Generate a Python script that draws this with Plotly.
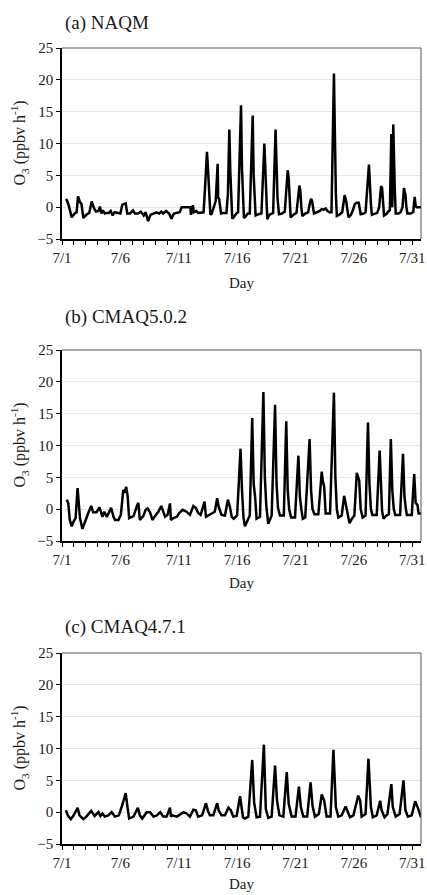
import plotly.graph_objects as go
from plotly.subplots import make_subplots

panel_titles = ["(a) NAQM", "(b) CMAQ5.0.2", "(c) CMAQ4.7.1"]
tick_hours = [0, 120, 240, 360, 480, 600, 720]
tick_labels = ["7/1", "7/6", "7/11", "7/16", "7/21", "7/26", "7/31"]
y_ticks = [-5, 0, 5, 10, 15, 20, 25]
x_title = "Day"
y_title = "O<sub>3</sub> (ppbv h<sup>-1</sup>)"

# hours since 7/1 00:00
hours_a = [8, 10, 14, 20, 26, 30, 33, 37, 40, 44, 50, 56, 61, 66, 70, 75, 78, 81, 84, 88,
           92, 96, 100, 104, 108, 114, 120, 124, 127, 131, 134, 140, 146, 150, 156, 162, 168,
           172, 177, 182, 188, 194, 200, 204, 208, 214, 220, 225, 230, 236, 242, 246, 264,
           265, 269, 271, 276, 280, 286, 291,
           294, 298, 300, 301, 303, 305, 308, 312, 316, 320, 321, 323, 325, 327, 333, 338,
           341, 344, 346, 348, 350, 354, 358, 362, 368, 370, 372, 374, 378, 382, 386, 392,
           394, 396, 398, 404, 410, 416, 418, 420, 422, 426, 430, 434, 439, 441, 443, 446,
           452, 458, 464, 466, 468, 470, 476, 482, 488, 490, 492, 494, 500, 506, 510, 512,
           514, 516, 518, 524, 530, 534, 538, 542, 546, 550, 554, 559, 561, 563, 565, 570,
           576, 581, 584, 586, 589, 594, 598, 602, 606, 610, 612, 614, 620, 624, 631, 633,
           635, 637, 644, 648, 652, 656, 658, 660, 662, 668, 670, 674, 677, 679, 681, 684,
           686, 692, 696, 700, 703, 705, 706, 708, 710, 716, 722, 725, 727, 729, 738]
o3_a = [1.3, 1.1, 0.2, -1.6, -1.0, -0.8, 1.7, 0.8, 0.5, -1.7, -1.2, -0.9, 0.9, -0.2, -0.7,
        -0.6, 0.1, -1.0, -0.5, -1.0, -0.9, -0.9, -0.6, -1.3, -0.8, -0.9, -1.0, 0.4, 0.5, 0.6,
        -1.0, -1.0, -0.5, -1.0, -1.0, -0.7, -1.3, -0.8, -2.2, -1.2, -1.0, -0.8, -1.0, -0.7,
        -1.0, -0.6, -1.0, -1.8, -1.0, -0.9, -0.8, 0.0, 0.0,
        -1.2, 0.3, -0.8, -0.6, -0.9, -0.8, -0.8,
        3.0, 8.7, 6.2, 5.0, 1.0, -1.2, -1.0, 0.0, 1.0, 6.8, 1.5, 1.3, 0.3, -1.0, -0.9, -0.9,
        2.0, 12.2, 5.5, 1.0, -1.8, -1.5, -1.0, -0.8, 16.0, 6.0, 3.0, -1.7, -1.4, -1.0, -1.0, 14.4,
        5.0, 2.5, -1.3, -1.1, -1.0, 10.0, 5.0, 2.0, -1.9, -1.2, -1.0, -0.9, 12.2, 5.0, 1.5, -1.1,
        -1.0, -0.7, 5.8, 4.5, 1.0, -1.6, -1.2, -0.9, 3.4, 2.5, 0.0, -1.4, -1.0, -0.8, 0.8, 1.3,
        1.0, 0.0, -1.0, -0.8, -0.6, -0.3, -0.4, -0.2, -0.6, -0.8, -0.8, 21.0, 8.0, 2.0, -1.4, -1.2,
        -0.8, 1.9, 1.0, 0.0, -1.6, -1.2, -0.5, 0.5, 0.7, 0.7, 0.0, -1.1, -1.0, -0.8, 6.7, 3.0,
        0.5, -1.2, -1.0, -0.9, 0.0, 3.3, 3.0, 1.0, -1.3, -1.0, -0.7, -0.5, 11.5, 0.0, 13.0, 3.0,
        -1.0, -1.0, -0.8, 0.0, 3.0, 2.2, 2.0, 0.0, -1.0, -1.0, -0.8, 1.6, 0.2, 0.0, 0.0]

hours_b = [10, 13, 16, 20, 24, 28, 32, 34, 37, 42, 47, 54, 60, 64, 71, 77, 80, 83, 87, 92,
           96, 101, 106, 109, 116, 121, 126, 129, 132, 135, 138, 147, 154, 157, 160, 167, 172,
           176, 181, 186, 191, 198, 204, 208, 212, 217, 222, 224, 229, 236, 241, 248, 256, 263,
           270, 275, 280, 285, 293, 296, 302, 308, 314, 319, 322, 328, 335, 341, 345, 349, 353,
           360, 367, 370, 373, 376, 383, 386, 391, 394, 397, 400, 407, 414, 417, 420, 424, 431,
           438, 441, 444, 448, 456, 461, 464, 467, 471, 479, 486, 489, 492, 495, 500, 509, 512,
           515, 519, 527, 534, 536, 539, 542, 551, 559, 562, 565, 568, 575, 580, 584, 591, 596,
           601, 606, 609, 611, 614, 618, 624, 629, 632, 635, 638, 647, 653, 656, 658, 661, 667,
           672, 676, 679, 682, 685, 695, 701, 704, 707, 709, 719, 724, 727, 729, 731, 733, 738]
o3_b = [1.5, 0.9, -1.7, -2.7, -1.9, -1.4, 3.3, 1.5, -1.4, -3.1, -1.9, -0.6, 0.5, -0.5, -0.5,
        0.3, -0.4, -1.2, -0.4, -1.2, -0.6, 0.2, -1.2, -1.7, -1.7, -0.9, 3.0, 2.8, 3.5, 2.0, -1.4,
        -1.1, 0.5, 1.0, -1.7, -1.1, -0.1, 0.1, -0.5, -1.7, -1.1, -0.4, 0.5, -0.4, -1.2, -0.9,
        0.9, -1.7, -1.4, -1.2, -0.6, -0.1, -0.4, -0.9, 0.5, 0.2, -0.6, -0.9, 1.2, -1.2, -0.9,
        -0.6, -0.4, 1.7, 0.4, -0.9, -1.0, 1.5, 0.4, -1.2, -1.5, -1.0, 9.5, 3.0, -1.3, -2.7, -1.3,
        -1.0, 14.3, 4.0, 1.9, -1.5, -1.2, 18.4, 5.0, 0.5, -2.3, -1.0, 16.4, 4.0, 0.2, -1.0, -1.0,
        13.8, 3.0, 0.0, -1.3, -1.3, 8.4, 2.0, 0.0, -1.5, -1.3, 11.0, 3.0, 0.0, -0.8, -0.8, 5.9,
        4.5, 3.5, -0.7, -0.7, 18.3, 5.0, 0.0, -1.3, -1.0, 2.1, 0.5, -2.2, -1.5, -1.0, 5.7, 4.8,
        4.5, 0.0, -1.3, -1.0, 13.6, 4.0, 0.0, -0.9, -0.9, 9.2, 2.0, -0.3, -1.5, -1.0, -0.8, 11.0,
        3.0, 0.0, -0.9, -0.9, 8.7, 2.0, 0.0, -0.9, -0.9, 5.5, 1.0, 0.8, 0.6, -0.7, -0.7]

hours_c = [8, 12, 18, 24, 32, 36, 44, 50, 60, 67, 75, 79, 83, 88, 95, 102, 109, 117, 125, 131,
           135, 138, 147, 156, 160, 165, 174, 181, 188, 195, 202, 208, 215, 222, 224, 227, 236,
           243, 250, 256, 263, 270, 275, 280, 288, 296, 300, 304, 311, 319, 322, 328, 335, 342,
           347, 352, 359, 366, 369, 372, 376, 383, 391, 395, 400, 407, 415, 419, 424, 431, 438,
           442, 447, 455, 462, 466, 472, 480, 487, 491, 496, 504, 511, 515, 520, 528, 534, 539,
           544, 552, 558, 563, 568, 575, 583, 588, 592, 599, 609, 613, 616, 624, 630, 635, 639,
           647, 654, 657, 663, 669, 677, 680, 686, 694, 702, 706, 711, 719, 726, 731, 738]
o3_c = [0.3, -0.5, -1.1, -0.5, 0.7, -0.5, -1.1, -0.7, 0.2, -0.6, 0.0, -0.6, -0.2, -0.7, -0.5,
        0.0, -0.7, -0.5, 1.4, 3.0, 0.6, -1.0, -0.7, 0.7, -0.5, -1.0, 0.0, 0.0, -0.7, -0.5, 0.0,
        -0.7, -0.7, 0.7, -0.7, -0.5, -0.7, -0.4, 0.0, -0.2, -0.7, 0.4, 0.3, -0.7, -0.5, 1.4,
        0.2, -0.5, -0.5, 1.4, 0.3, -0.5, -0.5, 0.7, 0.3, -0.7, -0.6, 2.5, 0.5, -0.8, -1.0, -0.7,
        8.2, 1.5, -0.8, -0.7, 10.6, 0.5, -0.9, -0.7, 7.3, 1.8, -0.5, -0.7, 6.3, 1.3, -0.7, -0.7,
        4.0, 0.8, -0.7, -0.7, 4.7, 1.0, -0.7, -0.3, 2.8, 1.8, -0.7, -0.7, 9.8, 0.8, -0.7, -0.5,
        0.9, 0.0, -0.8, -0.5, 2.6, 1.8, -0.7, -0.3, 8.4, 0.8, -0.8, -0.5, 1.8, 0.3, -0.8, -0.3,
        4.4, 0.8, -0.7, -0.3, 5.0, 0.3, -0.7, -0.5, 1.7, 0.8, -0.8]

series = [(hours_a, o3_a), (hours_b, o3_b), (hours_c, o3_c)]

W, H = 427, 895
FONT = "Liberation Serif"
TXT = "#1a1a1a"
plot_px = [(48, 239), (350, 541), (653, 844)]   # top, bottom of each plot area
title_px = [23, 317, 627]
day_px = [283, 583, 884]
x_dom = [62 / W, 421 / W]

fig = make_subplots(rows=3, cols=1)
annotations = []
shapes = []
for i, (hrs, vals) in enumerate(series):
    r = i + 1
    fig.add_trace(go.Scatter(x=hrs, y=vals, mode="lines",
                             line=dict(color="black", width=2.5), showlegend=False),
                  row=r, col=1)
    top, bot = plot_px[i]
    xa = "xaxis" if r == 1 else f"xaxis{r}"
    ya = "yaxis" if r == 1 else f"yaxis{r}"
    fig.layout[xa].update(
        domain=x_dom, range=[0, 738], tickmode="array", tickvals=tick_hours,
        ticktext=tick_labels, ticks="outside", ticklen=4, tickwidth=1, tickcolor="black",
        showline=True, linecolor="black", linewidth=1.5, showgrid=False, zeroline=False,
        automargin=False,
        minor=dict(ticks="outside", dtick=24, tick0=0, ticklen=4, tickcolor="black",
                   tickwidth=1, showgrid=False),
        tickfont=dict(family=FONT, size=15, color=TXT), fixedrange=True)
    fig.layout[ya].update(
        domain=[1 - bot / H, 1 - top / H], range=[-5, 25], tickmode="array",
        tickvals=y_ticks, ticks="outside", ticklen=4, tickwidth=1, tickcolor="black",
        showline=True, linecolor="black", linewidth=1.5, showgrid=True,
        gridcolor="#e6e6e6", gridwidth=1, zeroline=False, automargin=False,
        tickfont=dict(family=FONT, size=15, color=TXT), fixedrange=True)
    xref = "x domain" if r == 1 else f"x{r} domain"
    yref = "y domain" if r == 1 else f"y{r} domain"
    shapes.append(dict(type="line", xref=xref, yref=yref, x0=0, x1=1, y0=1, y1=1,
                       line=dict(color="#555555", width=1)))
    shapes.append(dict(type="line", xref=xref, yref=yref, x0=1, x1=1, y0=0, y1=1,
                       line=dict(color="#555555", width=1)))
    annotations.append(dict(text=panel_titles[i], xref="paper", yref="paper",
                            x=63 / W, y=1 - title_px[i] / H, xanchor="left",
                            yanchor="middle", showarrow=False,
                            font=dict(family=FONT, size=19, color=TXT)))
    annotations.append(dict(text=x_title, xref="paper", yref="paper",
                            x=sum(x_dom) / 2, y=1 - day_px[i] / H, xanchor="center",
                            yanchor="middle", showarrow=False,
                            font=dict(family=FONT, size=15, color=TXT)))
    annotations.append(dict(text=y_title, xref="paper", yref="paper",
                            x=19 / W, y=1 - (top + bot) / 2 / H, xanchor="center",
                            yanchor="middle", textangle=-90, showarrow=False,
                            font=dict(family=FONT, size=16, color=TXT)))

fig.update_layout(width=W, height=H, margin=dict(l=0, r=0, t=0, b=0, autoexpand=False),
                  paper_bgcolor="white", plot_bgcolor="white",
                  annotations=annotations, shapes=shapes)
fig.write_html("out.html", config={"displayModeBar": False},
               post_script="document.body.style.margin='0px';"
                           "document.body.style.overflow='hidden';")
